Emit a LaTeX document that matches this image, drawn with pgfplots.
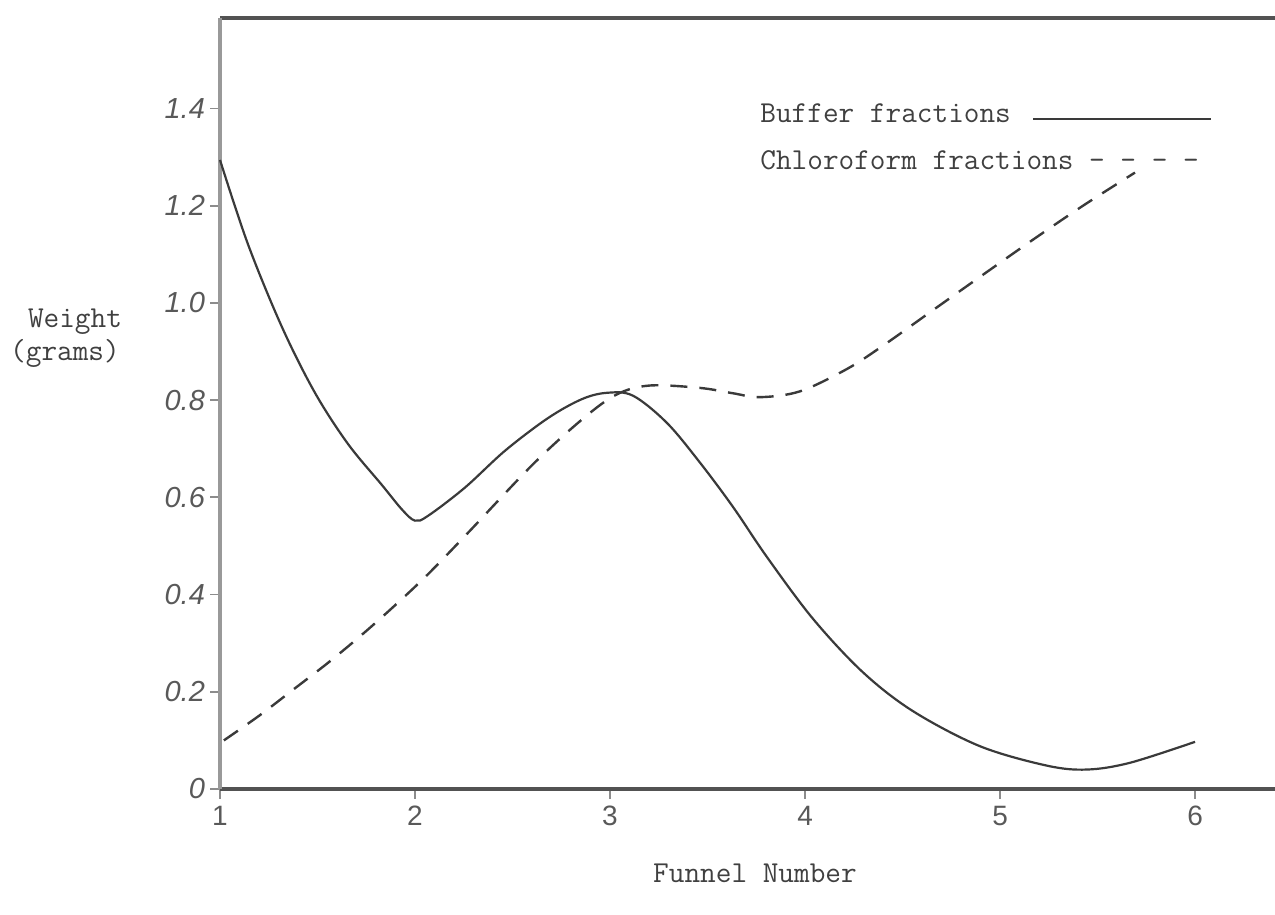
\documentclass[border=0pt]{standalone}
\usepackage{fontspec}
\usepackage{pgfplots}
\pgfplotsset{compat=1.18}
\newfontfamily\handfont{Liberation Sans}
\definecolor{ink}{HTML}{3A3A3A}
\definecolor{typeink}{HTML}{404040}
\begin{document}
\begin{tikzpicture}
\useasboundingbox (-110pt,-63pt) rectangle (527.5pt,394.5pt);
\begin{axis}[
  at={(0,0)}, anchor=south west,
  scale only axis, width=527.5pt, height=385.5pt,
  xmin=1, xmax=6.41, ymin=0, ymax=1.586,
  axis x line=box, axis y line=left,
  axis line style={-},
  x axis line style={-, draw=black!68, line width=1.9pt},
  y axis line style={-, draw=black!40, line width=1.9pt},
  xtick={1,2,3,4,5,6},
  ytick={0,0.2,0.4,0.6,0.8,1.0,1.2,1.4},
  yticklabels={0,0.2,0.4,0.6,0.8,1.0,1.2,1.4},
  xtick pos=left, ytick pos=left,
  tick align=outside, major tick length=5pt,
  tick style={draw=black!45, line width=0.9pt},
  /pgf/number format/assume math mode=true,
  yticklabel style={font=\handfont\itshape\fontsize{14.5}{16}\selectfont, text=black!65, xshift=1pt},
  xticklabel style={font=\handfont\fontsize{14}{16}\selectfont, text=black!65},
  clip=false,
]
\addplot[ink, line width=1.1pt, smooth, tension=0.55] coordinates {
 (1.0,1.294) (1.144,1.120) (1.318,0.950) (1.487,0.815) (1.656,0.710)
 (1.831,0.625) (1.933,0.575) (2.0,0.552) (2.067,0.562) (2.256,0.620)
 (2.462,0.696) (2.682,0.763) (2.856,0.802) (2.985,0.815) (3.118,0.809)
 (3.292,0.753) (3.462,0.671) (3.631,0.580) (3.805,0.477) (4.041,0.350)
 (4.297,0.240) (4.554,0.160) (4.897,0.088) (5.241,0.048) (5.446,0.040)
 (5.667,0.054) (6.0,0.097)
};
\addplot[ink, line width=1.2pt, smooth, tension=0.55, dash pattern=on 8.5pt off 6pt] coordinates {
 (1.02,0.100) (1.205,0.152) (1.374,0.204) (1.549,0.258) (1.718,0.314)
 (1.887,0.374) (2.062,0.440) (2.267,0.525) (2.605,0.668) (2.862,0.762)
 (3.036,0.812) (3.205,0.830) (3.462,0.825) (3.631,0.814) (3.769,0.806)
 (3.974,0.818) (4.215,0.864) (4.400,0.912) (4.656,0.985) (4.913,1.058)
 (5.169,1.130) (5.426,1.200) (5.692,1.268)
};
\end{axis}
% typewritten labels
\begin{scope}[every node/.style={font=\ttfamily\fontsize{15.2}{18}\selectfont, text=typeink, inner sep=0pt}]
\node at (-72.5pt,233.5pt) {Weight};
\node at (-77.5pt,218pt) {(grams)};
\node at (267.5pt,-42pt) {Funnel Number};
\node[anchor=west] at (270pt,338pt) {Buffer fractions};
\node[anchor=west] at (270pt,314.5pt) {Chloroform fractions - - - -};
\end{scope}
\draw[ink, line width=0.9pt] (406.5pt,335pt) -- (495.5pt,335pt);
\end{tikzpicture}
\end{document}
